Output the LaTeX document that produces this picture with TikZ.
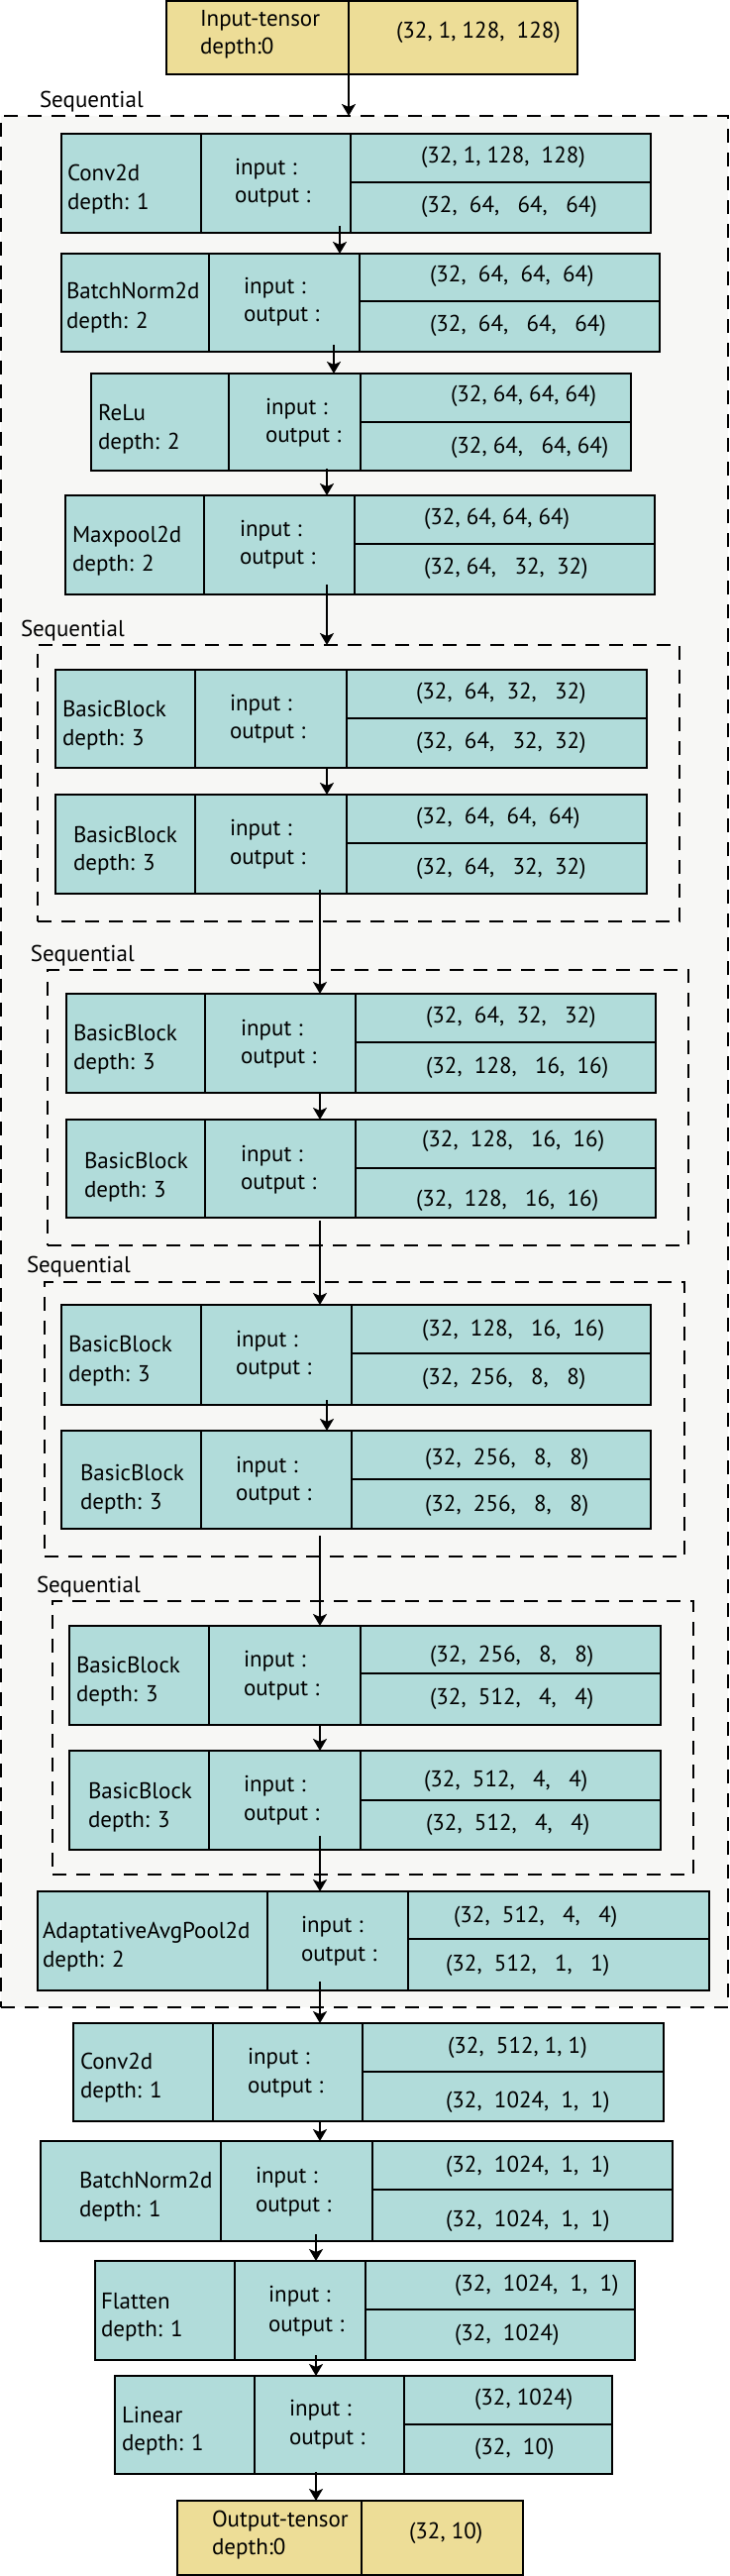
\documentclass[tikz,border=0pt]{standalone}
\usepackage{fontspec}
\setmainfont{PT Sans}
\usetikzlibrary{arrows.meta}
\definecolor{boxteal}{HTML}{B1DCDA}
\definecolor{boxyel}{HTML}{EDDD97}
\definecolor{seqbg}{HTML}{F7F7F5}
\newcounter{tn}
\newcommand\tx[3]{\stepcounter{tn}\node[txt] (t\arabic{tn}) at (#1,#2) {#3};}
\newcommand\mklayer[8]{%
  \node[layerbox, minimum width={(#4-#2)*0.5pt}, minimum height={(#5-#3)*0.5pt}] (#1) at ({(#2+#4)/2},{(#3+#5)/2}) {};
  \draw[cellline] (#6,#3) -- (#6,#5);
  \draw[cellline] (#7,#3) -- (#7,#5);
  \draw[cellline] (#7,#8) -- (#4,#8);
}
\newcommand\mktensor[6]{%
  \node[tensorbox, minimum width={(#4-#2)*0.5pt}, minimum height={(#5-#3)*0.5pt}] (#1) at ({(#2+#4)/2},{(#3+#5)/2}) {};
  \draw[cellline] (#6,#3) -- (#6,#5);
}
\newcommand\mkseq[5]{%
  \node[seqbox, minimum width={(#4-#2)*0.5pt}, minimum height={(#5-#3)*0.5pt}] (#1) at ({(#2+#4)/2},{(#3+#5)/2}) {};
}
\begin{document}
\begin{tikzpicture}[x=0.5pt,y=-0.5pt,
  layerbox/.style={draw=black, line width=1.2pt, inner sep=0pt, outer sep=0pt, fill=boxteal},
  tensorbox/.style={draw=black, line width=1.2pt, inner sep=0pt, outer sep=0pt, fill=boxyel},
  cellline/.style={draw=black, line width=1.2pt},
  seqbox/.style={draw=black, line width=1pt, dash pattern=on 7pt off 5pt, fill=seqbg, inner sep=0pt, outer sep=0pt},
  txt/.style={anchor=base west, inner sep=0pt, outer sep=0pt, font=\fontsize{11.5}{13}\selectfont},
  arr/.style={line width=1pt, -{Stealth[length=6pt,width=7pt,inset=1.5pt]}}]
\fill[white] (0,0) rectangle (736,2600);
\useasboundingbox (0,0) rectangle (736,2600);
% sequential containers
\mkseq{seq1}{1}{117}{735}{2026}
\mkseq{seq2}{38}{651}{686}{930}
\mkseq{seq3}{48}{979}{695}{1257}
\mkseq{seq4}{45}{1294}{691}{1571}
\mkseq{seq5}{53}{1616}{700}{1892}
% tensors
\mktensor{tin}{168}{1}{583}{75}{352}
\mktensor{tout}{179}{2524}{528}{2599}{365}
% layers
\mklayer{conv1}{62}{135}{657}{235}{203}{354}{184}
\mklayer{bn1}{62}{256}{666}{355}{211}{363}{304}
\mklayer{relu}{92}{377}{637}{475}{231}{364}{426}
\mklayer{maxp}{66}{500}{661}{600}{206}{358}{549}
\mklayer{bb1}{56}{676}{653}{775}{197}{350}{725}
\mklayer{bb2}{56}{802}{653}{902}{197}{350}{851}
\mklayer{bb3}{67}{1003}{662}{1103}{207}{359}{1052}
\mklayer{bb4}{67}{1130}{662}{1229}{207}{359}{1179}
\mklayer{bb5}{62}{1317}{657}{1418}{203}{355}{1366}
\mklayer{bb6}{62}{1444}{657}{1543}{203}{355}{1493}
\mklayer{bb7}{70}{1641}{667}{1741}{211}{364}{1689}
\mklayer{bb8}{70}{1767}{667}{1867}{211}{364}{1817}
\mklayer{aap}{38}{1909}{716}{2009}{270}{412}{1957}
\mklayer{conv2}{74}{2042}{670}{2141}{215}{366}{2091}
\mklayer{bn2}{41}{2161}{679}{2262}{223}{376}{2210}
\mklayer{flat}{96}{2282}{641}{2382}{237}{369}{2331}
\mklayer{lin}{116}{2398}{618}{2497}{257}{408}{2447}
% arrows
\coordinate (a1) at (352,75);   \draw[arr] (a1) -- (a1 |- seq1.north);
\coordinate (a2) at (343,228);  \draw[arr] (a2) -- (a2 |- bn1.north);
\coordinate (a3) at (337,348);  \draw[arr] (a3) -- (a3 |- relu.north);
\coordinate (a4) at (330,473);  \draw[arr] (a4) -- (a4 |- maxp.north);
\coordinate (a5) at (330,590);  \draw[arr] (a5) -- (a5 |- seq2.north);
\coordinate (a6) at (330,775);  \draw[arr] (a6) -- (a6 |- bb2.north);
\coordinate (a7) at (323,898);  \draw[arr] (a7) -- (a7 |- bb3.north);
\coordinate (a8) at (323,1103); \draw[arr] (a8) -- (a8 |- bb4.north);
\coordinate (a9) at (323,1232); \draw[arr] (a9) -- (a9 |- bb5.north);
\coordinate (a10) at (330,1413); \draw[arr] (a10) -- (a10 |- bb6.north);
\coordinate (a11) at (323,1550); \draw[arr] (a11) -- (a11 |- bb7.north);
\coordinate (a12) at (323,1741); \draw[arr] (a12) -- (a12 |- bb8.north);
\coordinate (a13) at (323,1853); \draw[arr] (a13) -- (a13 |- aap.north);
\coordinate (a14) at (323,2000); \draw[arr] (a14) -- (a14 |- conv2.north);
\coordinate (a15) at (323,2141); \draw[arr] (a15) -- (a15 |- bn2.north);
\coordinate (a16) at (319,2255); \draw[arr] (a16) -- (a16 |- flat.north);
\coordinate (a17) at (319,2377); \draw[arr] (a17) -- (a17 |- lin.north);
\coordinate (a18) at (319,2495); \draw[arr] (a18) -- (a18 |- tout.north);
% texts
\tx{202}{27}{Input-tensor} \tx{202}{55}{depth:0} \tx{400}{39}{(32, 1, 128,~~128)}
\tx{40}{109}{Sequential} \tx{21}{642}{Sequential} \tx{31}{970}{Sequential} \tx{27}{1284}{Sequential} \tx{37}{1607}{Sequential}
\tx{68}{183}{Conv2d} \tx{68}{212}{depth: 1} \tx{237}{177}{input :} \tx{237}{205}{output :} \tx{425}{165}{(32, 1, 128,~~128)} \tx{425}{215}{(32,~~64,~~~64,~~~64)}
\tx{67}{302}{BatchNorm2d} \tx{67}{332}{depth: 2} \tx{246}{297}{input :} \tx{246}{325}{output :} \tx{434}{285}{(32,~~64,~~64,~~64)} \tx{434}{335}{(32,~~64,~~~64,~~~64)}
\tx{99}{424}{ReLu} \tx{99}{453}{depth: 2} \tx{268}{418}{input :} \tx{268}{446}{output :} \tx{455}{406}{(32,~64,~64,~64)} \tx{455}{457}{(32,~64,~~~64,~64)}
\tx{73}{547}{Maxpool2d} \tx{73}{576}{depth: 2} \tx{242}{541}{input :} \tx{242}{569}{output :} \tx{428}{529}{(32, 64, 64, 64)} \tx{428}{579}{(32,~64,~~~32,~~32)}
\tx{63}{723}{BasicBlock} \tx{63}{752}{depth: 3} \tx{232}{717}{input :} \tx{232}{745}{output :} \tx{420}{705}{(32,~~64,~~32,~~~32)} \tx{420}{755}{(32,~~64,~~~32,~~32)}
\tx{74}{850}{BasicBlock} \tx{74}{878}{depth: 3} \tx{232}{843}{input :} \tx{232}{872}{output :} \tx{420}{831}{(32,~~64,~~64,~~64)} \tx{420}{882}{(32,~~64,~~~32,~~32)}
\tx{74}{1050}{BasicBlock} \tx{74}{1079}{depth: 3} \tx{243}{1045}{input :} \tx{243}{1073}{output :} \tx{430}{1032}{(32,~~64,~~32,~~~32)} \tx{430}{1083}{(32,~~128,~~~16,~~16)}
\tx{85}{1179}{BasicBlock} \tx{85}{1208}{depth: 3} \tx{243}{1172}{input :} \tx{243}{1200}{output :} \tx{426}{1157}{(32,~~128,~~~16,~~16)} \tx{420}{1217}{(32,~~128,~~~16,~~16)}
\tx{69}{1364}{BasicBlock} \tx{69}{1394}{depth: 3} \tx{238}{1359}{input :} \tx{238}{1387}{output :} \tx{426}{1348}{(32,~~128,~~~16,~~16)} \tx{426}{1397}{(32,~~256,~~~8,~~~8)}
\tx{81}{1494}{BasicBlock} \tx{81}{1523}{depth: 3} \tx{238}{1486}{input :} \tx{238}{1514}{output :} \tx{429}{1478}{(32,~~256,~~~8,~~~8)} \tx{429}{1525}{(32,~~256,~~~8,~~~8)}
\tx{77}{1688}{BasicBlock} \tx{77}{1717}{depth: 3} \tx{246}{1682}{input :} \tx{246}{1711}{output :} \tx{434}{1677}{(32,~~256,~~~8,~~~8)} \tx{434}{1720}{(32,~~512,~~~4,~~~4)}
\tx{89}{1815}{BasicBlock} \tx{89}{1844}{depth: 3} \tx{246}{1808}{input :} \tx{246}{1837}{output :} \tx{428}{1803}{(32,~~512,~~~4,~~~4)} \tx{430}{1847}{(32,~~512,~~~4,~~~4)}
\tx{43}{1956}{AdaptativeAvgPool2d} \tx{43}{1985}{depth: 2} \tx{304}{1950}{input :} \tx{304}{1979}{output :} \tx{458}{1940}{(32,~~512,~~~4,~~~4)} \tx{450}{1989}{(32,~~512,~~~1,~~~1)}
\tx{81}{2088}{Conv2d} \tx{81}{2117}{depth: 1} \tx{250}{2083}{input :} \tx{250}{2112}{output :} \tx{452}{2072}{(32,~~512,~1,~1)} \tx{450}{2127}{(32,~~1024,~~1,~~1)}
\tx{80}{2208}{BatchNorm2d} \tx{80}{2237}{depth: 1} \tx{258}{2203}{input :} \tx{258}{2232}{output :} \tx{450}{2192}{(32,~~1024,~~1,~~1)} \tx{450}{2247}{(32,~~1024,~~1,~~1)}
\tx{102}{2330}{Flatten} \tx{102}{2358}{depth: 1} \tx{271}{2323}{input :} \tx{271}{2353}{output :} \tx{459}{2312}{(32,~~1024,~~1,~~1)} \tx{459}{2362}{(32,~~1024)}
\tx{123}{2445}{Linear} \tx{123}{2473}{depth: 1} \tx{292}{2438}{input :} \tx{292}{2467}{output :} \tx{479}{2427}{(32, 1024)} \tx{479}{2477}{(32,~~10)}
\tx{214}{2550}{Output-tensor} \tx{214}{2578}{depth:0} \tx{413}{2562}{(32, 10)}
\end{tikzpicture}
\end{document}
